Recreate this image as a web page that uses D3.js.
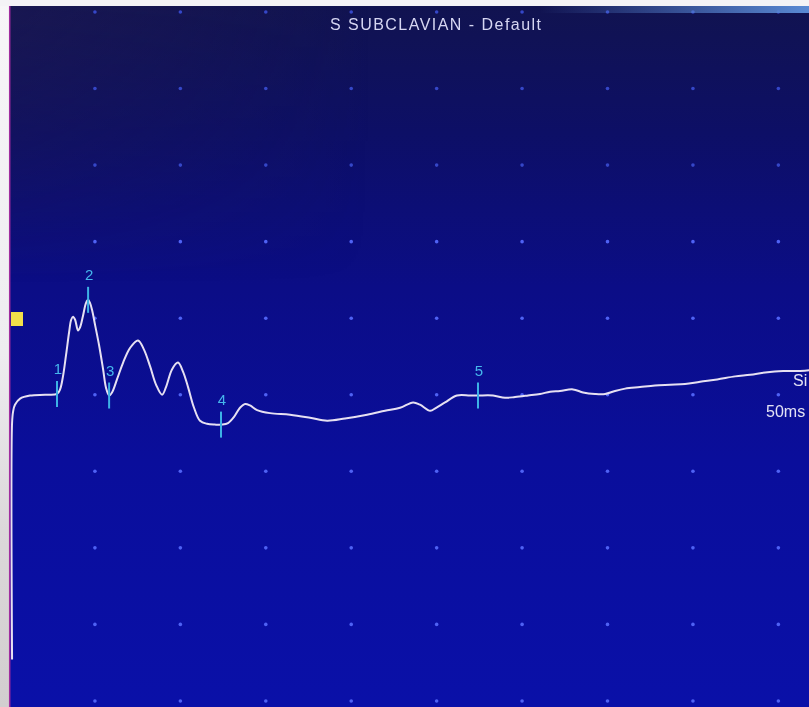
<!DOCTYPE html>
<html>
<head>
<meta charset="utf-8">
<script src="https://cdn.jsdelivr.net/npm/d3@7"></script>
<style>
  html, body { margin: 0; padding: 0; background: #f3f2f4; }
  svg { display: block; }
  text { font-family: "Liberation Sans", Arial, sans-serif; }
</style>
</head>
<body>
<svg id="chart" width="809" height="707"></svg>
<script>
// Sweep: 50 ms across 10 divisions (5 ms/div); amplitude in divisions.
const sweepMs = [0, 50];
const ampRange = [5, -5];
const gridMs = [5, 10, 15, 20, 25, 30, 35, 40, 45];
const gridUv = [5, 4, 3, 2, 1, 0, -1, -2, -3, -4];

// Recorded waveform (time in ms, amplitude in divisions)
const traceMs = [0.15, 0.15, 0.21, 0.32, 0.62, 1.20, 2.08, 2.78, 2.96, 3.13,
  3.31, 3.49, 3.61, 3.72, 3.84, 4.01, 4.13, 4.30, 4.48, 4.60,
  4.71, 4.83, 5.01, 5.24, 5.48, 5.65, 5.83, 6.00, 6.29, 6.65,
  7.05, 7.52, 7.87, 8.23, 8.58, 8.93, 9.16, 9.51, 9.86, 10.16,
  10.45, 10.80, 11.15, 11.56, 12.03, 12.44, 12.79, 13.14, 13.49, 13.79,
  14.08, 14.49, 15.25, 16.42, 17.59, 18.59, 19.64, 20.93, 21.98, 22.86,
  23.62, 24.03, 24.62, 24.97, 25.49, 26.19, 26.95, 27.42, 28.30, 29.00,
  29.59, 30.35, 31.05, 31.64, 32.22, 32.98, 33.57, 34.27, 34.86, 35.44,
  36.03, 36.90, 37.78, 38.66, 39.54, 40.42, 41.42, 42.47, 43.35, 44.23,
  45.28, 46.27, 47.15];
const traceUv = [-3.46, -0.37, -0.22, -0.13, -0.05, -0.01, 0.00, 0.01, 0.07, 0.24,
  0.52, 0.82, 0.98, 1.02, 0.98, 0.84, 0.88, 1.03, 1.20, 1.24,
  1.20, 1.11, 0.91, 0.65, 0.33, 0.09, -0.01, 0.03, 0.20, 0.42,
  0.61, 0.71, 0.59, 0.37, 0.13, 0.00, 0.10, 0.33, 0.42, 0.30,
  0.10, -0.17, -0.34, -0.38, -0.39, -0.39, -0.37, -0.29, -0.17, -0.12,
  -0.14, -0.20, -0.24, -0.26, -0.30, -0.34, -0.31, -0.26, -0.21, -0.17,
  -0.10, -0.13, -0.21, -0.17, -0.10, -0.01, -0.01, -0.01, -0.01, -0.04,
  -0.03, -0.01, 0.01, 0.04, 0.05, 0.07, 0.03, 0.01, 0.01, 0.05,
  0.08, 0.10, 0.12, 0.13, 0.14, 0.17, 0.20, 0.24, 0.26, 0.29,
  0.31, 0.31, 0.33];

// Cursor marks
const markerIds = ["1", "2", "3", "4", "5"];
const markerMs = [2.78, 4.60, 5.83, 12.38, 27.42];
const markerUv = [0.01, 1.24, -0.01, -0.39, -0.01];

const title = "S SUBCLAVIAN - Default";
const sideLabels = ["Si", "50ms"];

const svg = d3.select("#chart");
const W = 809, H = 707;

const x = d3.scaleLinear().domain(sweepMs).range([9.5, 863.8]);
const y = d3.scaleLinear().domain(ampRange).range([12, 777.5]);

const defs = svg.append("defs");
const bg = defs.append("linearGradient").attr("id", "bg")
  .attr("x1", 0).attr("y1", 0).attr("x2", 0).attr("y2", 1);
[[0, "#111350"], [0.18, "#0d0f66"], [0.4, "#0b0d86"], [0.65, "#0a0e9b"], [1, "#0a10a8"]]
  .forEach(([o, c]) => bg.append("stop").attr("offset", o).attr("stop-color", c));

const shade = defs.append("linearGradient").attr("id", "shade")
  .attr("x1", 0).attr("y1", 0).attr("x2", 1).attr("y2", 0);
shade.append("stop").attr("offset", 0).attr("stop-color", "#1e1a52").attr("stop-opacity", 0.6);
shade.append("stop").attr("offset", 0.45).attr("stop-color", "#1e1a52").attr("stop-opacity", 0);

const shadeMask = defs.append("linearGradient").attr("id", "shadeV")
  .attr("x1", 0).attr("y1", 0).attr("x2", 0).attr("y2", 1);
shadeMask.append("stop").attr("offset", 0).attr("stop-color", "#fff").attr("stop-opacity", 1);
shadeMask.append("stop").attr("offset", 0.4).attr("stop-color", "#fff").attr("stop-opacity", 0);
defs.append("mask").attr("id", "topMask").append("rect")
  .attr("width", W).attr("height", H).attr("fill", "url(#shadeV)");

const bezel = defs.append("linearGradient").attr("id", "bezel")
  .attr("x1", 0).attr("y1", 0).attr("x2", 0).attr("y2", 1);
[[0, "#f7f6f8"], [0.5, "#eeedf0"], [0.75, "#dcd8da"], [1, "#d2cecf"]]
  .forEach(([o, c]) => bezel.append("stop").attr("offset", o).attr("stop-color", c));

const rim = defs.append("linearGradient").attr("id", "rim")
  .attr("x1", 0).attr("y1", 0).attr("x2", 1).attr("y2", 0);
rim.append("stop").attr("offset", 0).attr("stop-color", "#5a8ad4").attr("stop-opacity", 0);
rim.append("stop").attr("offset", 1).attr("stop-color", "#5a8ad4").attr("stop-opacity", 1);

const glow = defs.append("filter").attr("id", "glow")
  .attr("x", "-100%").attr("y", "-100%").attr("width", "300%").attr("height", "300%");
glow.append("feGaussianBlur").attr("stdDeviation", 0.7);

const soft = defs.append("filter").attr("id", "soft");
soft.append("feGaussianBlur").attr("stdDeviation", 0.35);

// Screen
svg.append("rect").attr("x", 9).attr("y", 6).attr("width", W - 9).attr("height", H - 6)
  .attr("fill", "url(#bg)");
svg.append("rect").attr("x", 9).attr("y", 6).attr("width", W - 9).attr("height", H - 6)
  .attr("fill", "url(#shade)").attr("mask", "url(#topMask)");

// Dot grid
const dots = svg.append("g").attr("filter", "url(#glow)");
gridUv.forEach(v => {
  dots.selectAll(null).data(gridMs).join("circle")
    .attr("cx", d => x(d)).attr("cy", y(v)).attr("r", 1.8)
    .attr("fill", v > 2 ? "#3546c8" : "#4f62f4");
});

// Title
svg.append("text").attr("x", 330).attr("y", 30)
  .attr("textLength", 211).attr("lengthAdjust", "spacing")
  .attr("font-size", 16).attr("fill", "#d6d6f2")
  .attr("filter", "url(#soft)")
  .text(title);

// Side labels
svg.append("text").attr("x", 793).attr("y", 386).attr("font-size", 16)
  .attr("fill", "#e2e2f4").attr("filter", "url(#soft)").text(sideLabels[0]);
svg.append("text").attr("x", 766).attr("y", 417).attr("font-size", 16)
  .attr("fill", "#e2e2f4").attr("filter", "url(#soft)").text(sideLabels[1]);

// Channel flag
svg.append("rect").attr("x", 11).attr("y", 312).attr("width", 12).attr("height", 14)
  .attr("fill", "#f2e04a");

// Waveform
const pts = traceMs.map((t, i) => [t, traceUv[i]]);
const line = d3.line().x(d => x(d[0])).y(d => y(d[1])).curve(d3.curveCatmullRom.alpha(0.5));
svg.append("path").attr("d", line(pts))
  .attr("fill", "none").attr("stroke", "#e6e0f2").attr("stroke-width", 2)
  .attr("stroke-linejoin", "round").attr("filter", "url(#soft)");

// Cursor marks
const marks = svg.append("g").attr("filter", "url(#soft)");
markerIds.forEach((id, i) => {
  const cx = x(markerMs[i]), cy = y(markerUv[i]);
  marks.append("line").attr("x1", cx).attr("x2", cx)
    .attr("y1", cy - 13).attr("y2", cy + 13)
    .attr("stroke", "#3db2e6").attr("stroke-width", 2);
  marks.append("text").attr("x", cx + 1).attr("y", cy - 20)
    .attr("text-anchor", "middle").attr("font-size", 15)
    .attr("fill", "#45b6ec").text(id);
});

// Monitor frame edges
svg.append("rect").attr("x", 0).attr("y", 0).attr("width", 9).attr("height", H)
  .attr("fill", "url(#bezel)");
svg.append("line").attr("x1", 9.7).attr("x2", 9.7).attr("y1", 5).attr("y2", H)
  .attr("stroke", "#a02c9e").attr("stroke-width", 1.5);
svg.append("rect").attr("x", 0).attr("y", 0).attr("width", W).attr("height", 6)
  .attr("fill", "#f4f3f6");
svg.append("rect").attr("x", 540).attr("y", 6).attr("width", W - 540).attr("height", 7)
  .attr("fill", "url(#rim)");
</script>
</body>
</html>
